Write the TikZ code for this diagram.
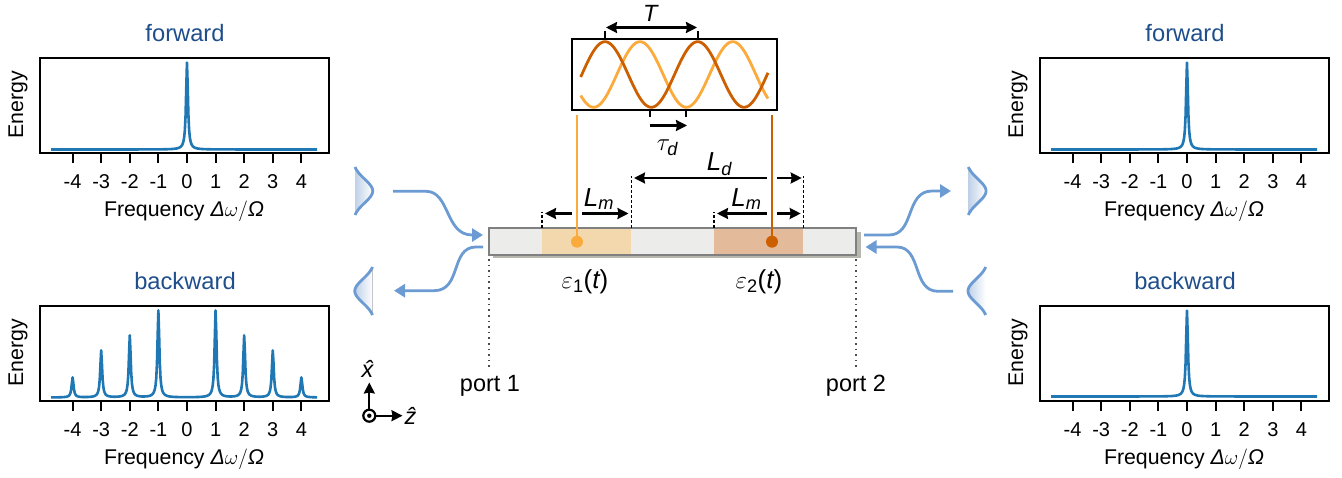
\documentclass[tikz,border=0pt]{standalone}
\usepackage{amsmath}
\usepackage{fontspec}
\setmainfont{Liberation Sans}
\usetikzlibrary{arrows.meta}
\definecolor{plotblue}{HTML}{1F77B4}
\definecolor{titleblue}{HTML}{1F4E8C}
\definecolor{flowblue}{HTML}{6B9BD2}
\definecolor{pulsefill}{HTML}{BFD1E8}
\definecolor{darkor}{HTML}{CC5F00}
\definecolor{lightor}{HTML}{FBAA3C}
\definecolor{guidefill}{HTML}{ECECEA}
\definecolor{guideedge}{HTML}{808080}
\definecolor{guideshadow}{HTML}{B7B7AE}
\definecolor{lightzone}{HTML}{F3D8AE}
\definecolor{darkzone}{HTML}{E3BA9A}
\newcommand{\itx}[1]{\text{\itshape #1}}
\newcommand{\freqlabel}{Frequency \textit{Δ}$\omega/$\textit{Ω}}
\pgfmathdeclarefunction{lor}{1}{\pgfmathparse{.0064/(.0064+4*#1*#1)}}
\pgfmathdeclarefunction{gs}{1}{\pgfmathparse{(exp(-(#1)*(#1)/280)-.128)/.872}}
\tikzset{
  every node/.style={outer sep=0pt},
  frame/.style={draw=black,line width=2.1pt,fill=none},
  tickline/.style={draw=black,line width=2pt},
  spec/.style={draw=plotblue,line width=2.6pt,line join=round},
  ticklab/.style={font=\fontsize{20}{24}\selectfont,inner sep=0pt},
  axlab/.style={font=\fontsize{21.3}{25}\selectfont,inner sep=0pt},
  ttl/.style={font=\fontsize{23.7}{28}\selectfont,text=titleblue,inner sep=0pt},
  lbl/.style={font=\fontsize{23.5}{28}\selectfont,inner sep=0pt},
  mlbl/.style={font=\fontsize{26}{30}\selectfont,inner sep=0pt},
  blk/.style={draw=black,line width=2.1pt},
  dim/.style={blk,-{Stealth[length=11pt,width=11pt,inset=1pt]}},
  dimdash/.style={draw=black,line width=1.6pt,dash pattern=on 3pt off 2pt},
  dots/.style={draw=black!70,line width=1.6pt,dash pattern=on 1.6pt off 4pt},
  flow/.style={draw=flowblue,line width=2.8pt,-{Triangle[length=11pt,width=13pt]}},
  pulseline/.style={draw=flowblue,line width=2.8pt},
}
\newcommand{\specframe}[4]{% name, x-of-left, y-top, title
  \node[ttl] (#1t) at (#2+145,#3-24.5) {#4};
  \node[minimum width=289pt,minimum height=95pt,anchor=north west,inner sep=0pt,frame] (#1f) at (#2,#3) {};
  \node[axlab,rotate=90] (#1e) at (#2-22,#3+47) {Energy};
  \foreach \k in {-4,...,4}{
    \draw[tickline] (#2+147+28.6*\k,#3+95) -- (#2+147+28.6*\k,#3+105);
    \node[ticklab] at (#2+147+28.6*\k,#3+124) {\k};
  }
  \node[axlab] (#1x) at (#2+144,#3+153) {\freqlabel};
}
\begin{document}
\begin{tikzpicture}[x=1pt,y=-1pt]
\useasboundingbox (0,0) rectangle (1342,478);
% panels
\specframe{a}{40}{58}{forward}
\specframe{b}{40}{306}{backward}
\specframe{c}{1040}{58}{forward}
\specframe{d}{1040}{306}{backward}
\draw[spec] plot[domain=-4.75:4.55,samples=373] ({187+28.6*\x},{149.5-87*lor(\x)});
\draw[spec] plot[domain=-4.75:4.55,samples=373] ({1187+28.6*\x},{149.5-87*lor(\x)});
\draw[spec] plot[domain=-4.75:4.55,samples=373] ({1187+28.6*\x},{396.5-86*lor(\x)});
\draw[spec] plot[domain=-4.75:4.55,samples=373] ({187+28.6*\x},{397.5-20*(lor(\x+4)+lor(\x-4))-47*(lor(\x+3)+lor(\x-3))-62*(lor(\x+2)+lor(\x-2))-87*(lor(\x+1)+lor(\x-1))});
% modulation box
\draw[line width=2.8pt,lightor,line join=round] plot[domain=580.7:768,samples=120] (\x,{74.5-32.8*cos((\x-640)/92.7*360)});
\draw[line width=2.8pt,darkor,line join=round] plot[domain=580.7:768,samples=120] (\x,{74.5-32.8*cos((\x-605)/92.7*360)});
\node[frame,minimum width=205pt,minimum height=71pt,anchor=north west,inner sep=0pt] (box) at (571.7,39) {};
\coordinate (tl) at (605,39); \coordinate (tr) at (698,39);
\coordinate (tlu) at (605,31); \coordinate (tru) at (698,31);
\draw[tickline] (tl) -- (tlu); \draw[tickline] (tr) -- (tru);
\coordinate (Ta) at (606,27.5); \coordinate (Tb) at (697,27.5);
\draw[blk,{Stealth[length=11pt,width=11pt,inset=1pt]}-{Stealth[length=11pt,width=11pt,inset=1pt]}] (Ta) -- (Tb);
\node[lbl] (T) at (651,13.5) {\textit{T}};
\coordinate (ua) at (650,110); \coordinate (ub) at (686,110);
\coordinate (uad) at (650,117); \coordinate (ubd) at (686,117);
\draw[tickline] (ua) -- (uad); \draw[tickline] (ub) -- (ubd);
\coordinate (ta) at (649.5,125.5); \coordinate (tb) at (687,125.5);
\draw[dim] (ta) -- (tb);
\node[mlbl] (tau) at (667.5,148) {$\tau_{\itx{d}}$};
% waveguide
\fill[guideshadow] (493,232) rectangle (860.5,258.5);
\fill[guidefill] (489,228) rectangle (856,255);
\fill[lightzone] (541.7,228) rectangle (631.2,255);
\fill[darkzone] (713.7,228) rectangle (803.3,255);
\node[draw=guideedge,line width=1.6pt,minimum width=367pt,minimum height=27pt,anchor=north west,inner sep=0pt] (wg) at (489,228) {};
% dimension marks
\coordinate (m1) at (541.7,228); \coordinate (m1u) at (541.7,212);
\coordinate (m2) at (631.5,228); \coordinate (m2u) at (631.5,176);
\coordinate (m3) at (714,228); \coordinate (m3u) at (714,212);
\coordinate (m4) at (803.5,228); \coordinate (m4u) at (803.5,176);
\draw[dimdash] (m1) -- (m1u); \draw[dimdash] (m2) -- (m2u);
\draw[dimdash] (m3) -- (m3u); \draw[dimdash] (m4) -- (m4u);
\coordinate (l1a) at (571.7,213.5); \coordinate (l1b) at (545,213.5);
\coordinate (l1c) at (582,213.5); \coordinate (l1d) at (628.5,213.5);
\coordinate (l2a) at (766.7,213.5); \coordinate (l2b) at (717,213.5);
\coordinate (l2c) at (777,213.5); \coordinate (l2d) at (800.7,213.5);
\coordinate (lda) at (766.7,178); \coordinate (ldb) at (634,178);
\coordinate (ldc) at (777,178); \coordinate (ldd) at (801.7,178);
\draw[dim] (l1a) -- (l1b); \draw[dim] (l1c) -- (l1d);
\draw[dim] (l2a) -- (l2b); \draw[dim] (l2c) -- (l2d);
\draw[dim] (lda) -- (ldb); \draw[dim] (ldc) -- (ldd);
\node[mlbl] (Lm1) at (599,199) {$\itx{L}_{\itx{m}}$};
\node[mlbl] (Lm2) at (746.5,199) {$\itx{L}_{\itx{m}}$};
\node[mlbl] (Ld) at (719.5,164) {$\itx{L}_{\itx{d}}$};
% feeds
\coordinate (f1) at (577,115); \coordinate (f2) at (772,115);
\node[circle,fill=lightor,minimum size=12pt,inner sep=0pt] (d1) at (577,241.7) {};
\node[circle,fill=darkor,minimum size=12pt,inner sep=0pt] (d2) at (772,241.7) {};
\draw[line width=2.4pt,lightor] (f1) -- (d1.center);
\draw[line width=2.4pt,darkor] (f2) -- (d2.center);
\node[mlbl] (e1) at (585,281.5) {$\varepsilon_{\text{1}}\text{(}\itx{t}\text{)}$};
\node[mlbl] (e2) at (759,281.5) {$\varepsilon_{\text{2}}\text{(}\itx{t}\text{)}$};
% ports
\coordinate (p1a) at (489,259); \coordinate (p1b) at (489,367);
\coordinate (p2a) at (856,259); \coordinate (p2b) at (856,367);
\draw[dots] (p1a) -- (p1b); \draw[dots] (p2a) -- (p2b);
\node[lbl] (port1) at (490,386) {port 1};
\node[lbl] (port2) at (856,386) {port 2};
% pulses
\fill[left color=pulsefill,right color=white] plot[domain=167:215,samples=50] ({355+17.7*gs(\x-191)},\x) -- cycle;
\draw[pulseline] plot[domain=167:215,samples=50] ({355+17.7*gs(\x-191)},\x);
\fill[left color=pulsefill,right color=white] plot[domain=167:215,samples=50] ({968.3+17.7*gs(\x-191)},\x) -- cycle;
\draw[pulseline] plot[domain=167:215,samples=50] ({968.3+17.7*gs(\x-191)},\x);
\fill[left color=pulsefill,right color=white] plot[domain=267:315,samples=50] ({372.5-17.7*gs(\x-291)},\x) -- cycle;
\draw[pulseline] plot[domain=267:315,samples=50] ({372.5-17.7*gs(\x-291)},\x);
\fill[left color=pulsefill,right color=white] plot[domain=267:315,samples=50] ({985.7-17.7*gs(\x-291)},\x) -- cycle;
\draw[pulseline] plot[domain=267:315,samples=50] ({985.7-17.7*gs(\x-291)},\x);
% flows
\coordinate (fa) at (393,191.3); \coordinate (fb) at (483,235);
\draw[flow] (fa) -- (426,191.3) .. controls (450,191.3) and (445,235) .. (472,235) -- (fb);
\coordinate (fc) at (483,247); \coordinate (fd) at (394,290.7);
\draw[flow] (fc) -- (476,247) .. controls (450,247) and (462,290.7) .. (434,290.7) -- (fd);
\coordinate (fe) at (864,235); \coordinate (ff) at (951,191);
\draw[flow] (fe) -- (889,235) .. controls (915,235) and (905,191) .. (932,191) -- (ff);
\coordinate (fg) at (953,291.3); \coordinate (fh) at (865.5,247);
\draw[flow] (fg) -- (938,291.3) .. controls (912,291.3) and (922,247) .. (897,247) -- (fh);
% axes
\node[circle,draw=black,line width=2.2pt,minimum size=12pt,inner sep=0pt] (orig) at (369.3,415.7) {};
\fill[black] (orig.center) circle (2.2pt);
\coordinate (xe) at (369.3,382.5); \coordinate (ze) at (402.5,415.7);
\draw[dim] (orig) -- (xe); \draw[dim] (orig) -- (ze);
\node[lbl] (xh) at (369.5,369) {\textit{x̂}};
\node[lbl] (zh) at (410.5,416) {\textit{ẑ}};
\end{tikzpicture}
\end{document}
